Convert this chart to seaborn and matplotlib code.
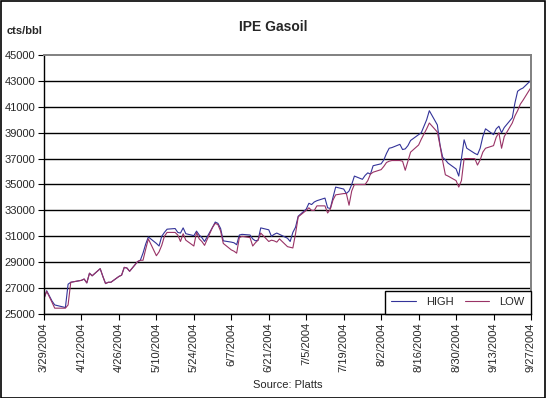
import pandas as pd
import seaborn as sns
import matplotlib.pyplot as plt
import matplotlib.dates as mdates
from matplotlib.ticker import FuncFormatter
from matplotlib.patches import Rectangle

# daily values (cts/bbl)
dates = ["2004-03-29", "2004-03-30", "2004-04-01", "2004-04-02", "2004-04-05", "2004-04-06",
         "2004-04-07", "2004-04-08", "2004-04-12", "2004-04-13", "2004-04-14", "2004-04-15",
         "2004-04-16", "2004-04-19", "2004-04-20", "2004-04-21", "2004-04-22", "2004-04-23",
         "2004-04-26", "2004-04-27", "2004-04-28", "2004-04-29", "2004-04-30", "2004-05-03",
         "2004-05-04", "2004-05-05", "2004-05-06", "2004-05-07", "2004-05-10", "2004-05-11",
         "2004-05-12", "2004-05-13", "2004-05-14", "2004-05-17", "2004-05-18", "2004-05-19",
         "2004-05-20", "2004-05-21", "2004-05-24", "2004-05-25", "2004-05-26", "2004-05-27",
         "2004-05-28", "2004-05-31", "2004-06-01", "2004-06-02", "2004-06-03", "2004-06-04",
         "2004-06-07", "2004-06-08", "2004-06-09", "2004-06-10", "2004-06-11", "2004-06-14",
         "2004-06-15", "2004-06-16", "2004-06-17", "2004-06-18", "2004-06-21", "2004-06-22",
         "2004-06-23", "2004-06-24", "2004-06-25", "2004-06-28", "2004-06-29", "2004-06-30",
         "2004-07-01", "2004-07-02", "2004-07-05", "2004-07-06", "2004-07-07", "2004-07-08",
         "2004-07-09", "2004-07-12", "2004-07-13", "2004-07-14", "2004-07-15", "2004-07-16",
         "2004-07-19", "2004-07-20", "2004-07-21", "2004-07-22", "2004-07-23", "2004-07-26",
         "2004-07-27", "2004-07-28", "2004-07-29", "2004-07-30", "2004-08-02", "2004-08-03",
         "2004-08-04", "2004-08-05", "2004-08-06", "2004-08-09", "2004-08-10", "2004-08-11",
         "2004-08-12", "2004-08-13", "2004-08-16", "2004-08-17", "2004-08-18", "2004-08-19",
         "2004-08-20", "2004-08-23", "2004-08-24", "2004-08-25", "2004-08-26", "2004-08-27",
         "2004-08-30", "2004-08-31", "2004-09-01", "2004-09-02", "2004-09-03", "2004-09-06",
         "2004-09-07", "2004-09-08", "2004-09-09", "2004-09-10", "2004-09-13", "2004-09-14",
         "2004-09-15", "2004-09-16", "2004-09-17", "2004-09-20", "2004-09-21", "2004-09-22",
         "2004-09-23", "2004-09-24", "2004-09-27"]

high = [26200, 26800, 26000, 25700, 25550, 25500,
        27300, 27450, 27600, 27700, 27400, 28150,
        27950, 28500, 27900, 27350, 27450, 27450,
        27900, 28000, 28600, 28550, 28300, 29050,
        29150, 29700, 30400, 30950, 30450, 30250,
        31000, 31300, 31550, 31600, 31300, 31250,
        31650, 31200, 31050, 31400, 31100, 30900,
        30600, 31700, 32100, 32000, 31600, 30650,
        30550, 30500, 30350, 31100, 31150, 31100,
        30800, 30650, 30700, 31650, 31500, 31000,
        31150, 31250, 31150, 30850, 30600, 31300,
        31700, 32550, 33100, 33550, 33450, 33650,
        33750, 33950, 33200, 33150, 34000, 34800,
        34650, 34300, 34500, 35000, 35650, 35400,
        35700, 35900, 35800, 36450, 36600, 36900,
        37400, 37800, 37850, 38100, 37700, 37750,
        38000, 38400, 38850, 39000, 39500, 40000,
        40700, 39600, 38050, 37100, 36900, 36650,
        36200, 35650, 37000, 38450, 37800, 37400,
        37300, 37800, 38700, 39300, 38850, 39300,
        39500, 39000, 39400, 40150, 41300, 42200,
        42350, 42450, 43050]

low = [26200, 26750, 25900, 25450, 25450, 25450,
       25700, 27450, 27600, 27700, 27400, 28150,
       27950, 28500, 27900, 27350, 27450, 27450,
       27900, 28000, 28600, 28550, 28300, 29050,
       29150, 29150, 30000, 30800, 29500, 29800,
       30300, 31000, 31300, 31300, 31100, 30600,
       31200, 30700, 30250, 31300, 30800, 30600,
       30300, 31700, 32000, 31900, 31400, 30450,
       29950, 29850, 29700, 30900, 31000, 30900,
       30250, 30500, 30700, 31250, 30600, 30700,
       30650, 30550, 30800, 30200, 30150, 30100,
       31200, 32500, 33000, 33200, 33000, 33000,
       33350, 33350, 32800, 33100, 33800, 34200,
       34300, 34300, 33400, 34500, 35000, 35000,
       35000, 35300, 35800, 35950, 36150, 36400,
       36700, 36800, 36850, 36850, 36800, 36100,
       36800, 37500, 38050, 38500, 38900, 39300,
       39750, 39050, 38000, 36800, 35750, 35650,
       35300, 34800, 35300, 37000, 37000, 37000,
       36500, 36900, 37500, 37800, 38000, 38650,
       39000, 37800, 38700, 39750, 40300, 40700,
       41200, 41500, 42500]

y_ticks = [25000, 27000, 29000, 31000, 33000, 35000, 37000, 39000, 41000, 43000, 45000]

df = pd.DataFrame({"date": pd.to_datetime(dates), "HIGH": high, "LOW": low})
df = df.melt(id_vars="date", var_name="series", value_name="price")

sns.set_theme(style="white")
plt.rcParams["font.family"] = ["Liberation Sans", "DejaVu Sans"]

fig = plt.figure(figsize=(5.46, 3.98), dpi=100)
ax = fig.add_axes([44 / 546, 1 - 314 / 398, 487 / 546, 259 / 398])

sns.lineplot(data=df, x="date", y="price", hue="series",
             palette={"HIGH": "#333399", "LOW": "#993366"},
             linewidth=0.8, ax=ax)

ax.set_xlim(pd.Timestamp("2004-03-29"), pd.Timestamp("2004-09-27"))
ax.set_ylim(25000, 45000)
ax.set_yticks(y_ticks)
ax.set_xticks(pd.date_range("2004-03-29", "2004-09-27", freq="14D"))
ax.xaxis.set_major_formatter(FuncFormatter(
    lambda v, p: (lambda d: f"{d.month}/{d.day}/{d.year}")(mdates.num2date(v))))
plt.setp(ax.get_xticklabels(), rotation=90)
ax.tick_params(axis="both", labelsize=8, length=4, width=0.8, color="black",
               direction="out", pad=2)
ax.tick_params(axis="x", bottom=True)
ax.tick_params(axis="y", left=True)

ax.grid(axis="y", color="black", linewidth=1.0)
ax.grid(axis="x", visible=False)
# top edge is the gray frame, not a gridline
ax.yaxis.get_gridlines()[-1].set_visible(False)
for s in ["left", "bottom"]:
    ax.spines[s].set_color("black")
    ax.spines[s].set_linewidth(1.0)
for s in ["top", "right"]:
    ax.spines[s].set_color("#808080")
    ax.spines[s].set_linewidth(1.4)

ax.set_xlabel("Source: Platts", fontsize=8, labelpad=6)
ax.set_ylabel("")

leg = ax.legend(loc="lower right", bbox_to_anchor=(1, 0), borderaxespad=0,
                ncol=2, fontsize=8, frameon=True, fancybox=False,
                edgecolor="black", framealpha=1, handlelength=2.2,
                handletextpad=0.9, columnspacing=1.0, borderpad=0.6)
leg.get_frame().set_linewidth(1.0)

fig.text(0.5, 1 - 27 / 398, "IPE Gasoil", ha="center", va="center",
         fontsize=10, fontweight="bold")
fig.text(7 / 546, 1 - 31 / 398, "cts/bbl", ha="left", va="center",
         fontsize=8, fontweight="bold")
fig.patches.append(Rectangle((0.001, 0.001), 0.997, 0.997, transform=fig.transFigure,
                             fill=False, edgecolor="black", linewidth=1.2))

fig.savefig("out.png", dpi=100)
